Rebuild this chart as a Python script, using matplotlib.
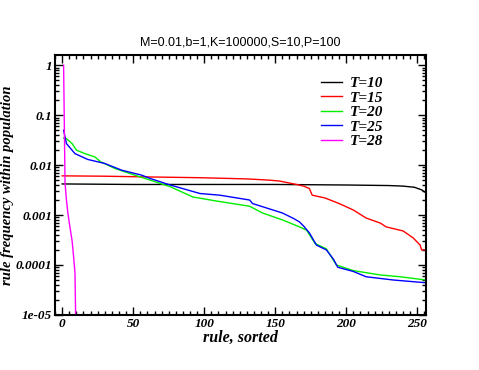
import numpy as np
import matplotlib.pyplot as plt
from matplotlib.ticker import MultipleLocator, LogLocator, FuncFormatter

# sorted rule frequencies (rule index, frequency)
t10_x = [0, 50, 100, 150, 200, 230, 240, 248, 253, 256]
t10_y = [0.0042, 0.0041, 0.0041, 0.0041, 0.004, 0.0039, 0.0038, 0.0036, 0.0032, 0.0028]

t15_x = [0, 30, 61, 97, 130, 146, 153, 165, 170, 174, 176, 185, 195, 205, 214, 224, 228, 240, 247,
         252, 253, 256]
t15_y = [0.0061, 0.006, 0.0058, 0.0056, 0.0053, 0.005, 0.0048, 0.0041, 0.0038, 0.0034, 0.0025, 0.0022,
         0.0017, 0.00126, 0.00087, 0.00069, 0.00058, 0.00048, 0.00035, 0.00025, 0.0002, 0.0002]

t20_x = [1, 3, 7, 10, 16, 23, 27, 37, 51, 62, 76, 92, 109, 132, 141, 155, 167, 172, 178, 186, 193,
         205, 224, 238, 256]
t20_y = [0.035, 0.034, 0.027, 0.02, 0.017, 0.0146, 0.0117, 0.0086, 0.0063, 0.005, 0.0037, 0.0023,
         0.0019, 0.0015, 0.0011, 0.0008, 0.00058, 0.0005, 0.00027, 0.00021, 0.0001,
         0.000077, 0.000063, 0.000058, 0.00005]

t25_x = [1, 3, 9, 18, 30, 42, 56, 62, 76, 97, 111, 132, 134, 155, 163, 167, 170, 174, 179, 186, 191,
         194, 205, 214, 233, 256]
t25_y = [0.05, 0.027, 0.017, 0.013, 0.0108, 0.0079, 0.0063, 0.0054, 0.004, 0.0027, 0.0025, 0.002,
         0.0017, 0.0011, 0.00085, 0.00073, 0.0006, 0.00044, 0.00025, 0.0002, 0.00013,
         0.00009, 0.000074, 0.000058, 0.00005, 0.000044]

t28_x = [1, 2, 3, 4, 5, 7, 8, 9, 10]
t28_y = [1.0, 0.0044, 0.002, 0.0011, 0.0007, 0.0003, 0.00015, 0.00007, 0.000001]

series = [
    (t10_x, t10_y, 'black', 'T=10'),
    (t15_x, t15_y, 'red', 'T=15'),
    (t20_x, t20_y, '#00ee00', 'T=20'),
    (t25_x, t25_y, 'blue', 'T=25'),
    (t28_x, t28_y, 'magenta', 'T=28'),
]

fig = plt.figure(figsize=(4.79, 3.70), dpi=100)
ax = fig.add_axes([0.115, 0.149, 0.774, 0.702])

for xs, ys, col, lab in series:
    ax.plot(xs, ys, color=col, lw=1.0, label=lab)

ax.set_yscale('log')
ax.set_xlim(-5, 256)
ax.set_ylim(1e-5, 1.6)

serif = dict(family='Liberation Serif', weight='bold', style='italic')

ax.xaxis.set_major_locator(MultipleLocator(50))
ax.xaxis.set_minor_locator(MultipleLocator(5))
ax.yaxis.set_major_locator(LogLocator(base=10, numticks=10))
ax.yaxis.set_minor_locator(LogLocator(base=10, subs=np.arange(2, 10), numticks=10))

def yfmt(v, pos):
    labels = {1: '1', 0.1: '0.1', 0.01: '0.01', 0.001: '0.001', 0.0001: '0.0001', 1e-5: '1e-05'}
    for k, s in labels.items():
        if abs(v - k) < k * 1e-6:
            return s
    return ''

ax.yaxis.set_major_formatter(FuncFormatter(yfmt))
ax.tick_params(which='both', direction='in', top=True, right=True, width=1)
ax.tick_params(which='major', length=6, pad=2)
ax.tick_params(which='minor', length=3)
for lbl in ax.get_xticklabels() + ax.get_yticklabels():
    lbl.set_fontproperties(dict(**serif, size=9.5))
for sp in ax.spines.values():
    sp.set_linewidth(1.5)

ax.set_xlabel('rule, sorted', fontsize=11.5, labelpad=0, **serif)
ax.set_ylabel('rule frequency within population', fontsize=10.5, **serif)
ax.yaxis.set_label_coords(-0.11, 0.5)
ax.set_title('M=0.01,b=1,K=100000,S=10,P=100', fontsize=9, family='Liberation Sans', pad=7)

ax.legend(loc='upper left', bbox_to_anchor=(0.68, 0.97), frameon=False, handlelength=1.4,
          handletextpad=0.5, labelspacing=0.05, prop=dict(**serif, size=11))

fig.savefig('out.png', dpi=100)
